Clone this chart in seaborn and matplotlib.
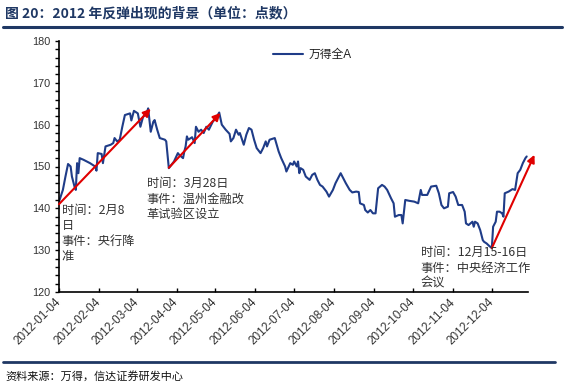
import matplotlib
matplotlib.use("Agg")
import matplotlib.pyplot as plt
import matplotlib.dates as mdates
from matplotlib.ticker import MultipleLocator
import seaborn as sns
import pandas as pd

# ---------------- data ----------------
dates = [
    "2012-01-04", "2012-01-07", "2012-01-09", "2012-01-11", "2012-01-13", "2012-01-14",
    "2012-01-16", "2012-01-17", "2012-01-18", "2012-01-19", "2012-01-20", "2012-01-23",
    "2012-01-28", "2012-02-01", "2012-02-02", "2012-02-03", "2012-02-06", "2012-02-07",
    "2012-02-09", "2012-02-13", "2012-02-15", "2012-02-16", "2012-02-18", "2012-02-20",
    "2012-02-22", "2012-02-24", "2012-02-28", "2012-02-29", "2012-03-02", "2012-03-05",
    "2012-03-07", "2012-03-09", "2012-03-12", "2012-03-13", "2012-03-14", "2012-03-15",
    "2012-03-17", "2012-03-18", "2012-03-20", "2012-03-22", "2012-03-26", "2012-03-27",
    "2012-03-29", "2012-04-02", "2012-04-05", "2012-04-06", "2012-04-09", "2012-04-10",
    "2012-04-11", "2012-04-12", "2012-04-13", "2012-04-16", "2012-04-18", "2012-04-19",
    "2012-04-21", "2012-04-23", "2012-04-25", "2012-04-27", "2012-04-29", "2012-05-02",
    "2012-05-05", "2012-05-07", "2012-05-09", "2012-05-12", "2012-05-15", "2012-05-16",
    "2012-05-18", "2012-05-20", "2012-05-22", "2012-05-23", "2012-05-26", "2012-05-28",
    "2012-05-30", "2012-06-01", "2012-06-03", "2012-06-05", "2012-06-08", "2012-06-10",
    "2012-06-12", "2012-06-13", "2012-06-15", "2012-06-19", "2012-06-22", "2012-06-24",
    "2012-06-27", "2012-06-28", "2012-07-01", "2012-07-03", "2012-07-04", "2012-07-06",
    "2012-07-07", "2012-07-08", "2012-07-09", "2012-07-11", "2012-07-13", "2012-07-16",
    "2012-07-18", "2012-07-20", "2012-07-22", "2012-07-24", "2012-07-26", "2012-07-29",
    "2012-07-31", "2012-08-03", "2012-08-05", "2012-08-09", "2012-08-11", "2012-08-13",
    "2012-08-16", "2012-08-18", "2012-08-21", "2012-08-23", "2012-08-24", "2012-08-27",
    "2012-08-28", "2012-08-30", "2012-09-01", "2012-09-03", "2012-09-05", "2012-09-07",
    "2012-09-10", "2012-09-12", "2012-09-14", "2012-09-17", "2012-09-19", "2012-09-20",
    "2012-09-23", "2012-09-25", "2012-09-26", "2012-09-28", "2012-10-01", "2012-10-05",
    "2012-10-08", "2012-10-10", "2012-10-11", "2012-10-15", "2012-10-18", "2012-10-22",
    "2012-10-24", "2012-10-26", "2012-10-28", "2012-10-31", "2012-11-01", "2012-11-04",
    "2012-11-06", "2012-11-08", "2012-11-11", "2012-11-13", "2012-11-14", "2012-11-16",
    "2012-11-19", "2012-11-20", "2012-11-21", "2012-11-23", "2012-11-25", "2012-11-27",
    "2012-11-28", "2012-11-30", "2012-12-02", "2012-12-04", "2012-12-05", "2012-12-07",
    "2012-12-08", "2012-12-10", "2012-12-12", "2012-12-13", "2012-12-14", "2012-12-17",
    "2012-12-20", "2012-12-22", "2012-12-24", "2012-12-26", "2012-12-28", "2012-12-30",
    "2012-12-31",
]
values = [
    141.6, 144.4, 147.6, 150.6, 150.0, 147.6,
    145.2, 144.4, 150.8, 148.4, 152.0, 151.6,
    150.8, 150.0, 149.0, 153.2, 153.0, 150.8,
    154.8, 155.2, 155.6, 156.8, 156.0, 156.4,
    159.5, 162.3, 162.7, 161.0, 163.3, 162.7,
    159.5, 161.8, 162.9, 163.9, 161.1, 158.3,
    160.7, 161.1, 158.8, 156.8, 156.4, 156.0,
    149.6, 151.2, 153.2, 152.8, 152.0, 153.6,
    154.8, 157.2, 156.4, 157.0, 155.6, 159.5,
    158.3, 158.8, 158.0, 159.5, 158.8, 160.7,
    161.8, 162.9, 160.0, 158.8, 157.8, 156.0,
    156.8, 158.8, 157.6, 158.0, 155.2, 157.6,
    159.2, 158.8, 156.4, 154.4, 153.2, 154.4,
    156.0, 154.8, 156.4, 156.8, 153.6, 152.0,
    150.0, 148.8, 150.8, 150.4, 151.2, 150.0,
    151.2, 148.4, 149.6, 149.2, 147.6, 146.8,
    148.0, 148.4, 146.8, 145.6, 145.2, 144.0,
    142.8, 144.4, 146.0, 148.4, 147.2, 146.0,
    144.4, 143.8, 144.0, 143.9, 141.2, 140.8,
    139.6, 139.0, 139.6, 138.8, 138.8, 144.8,
    145.6, 145.2, 144.4, 142.4, 141.2, 138.0,
    138.4, 138.4, 136.4, 142.0, 141.8, 141.6,
    141.2, 144.4, 143.2, 143.2, 145.2, 145.4,
    143.6, 140.8, 140.0, 140.4, 143.6, 143.9,
    142.8, 140.8, 140.8, 139.2, 136.4, 136.0,
    136.8, 135.6, 136.8, 136.4, 134.8, 132.4,
    132.0, 131.6, 131.0, 130.5, 135.6, 136.8,
    139.2, 139.2, 138.8, 138.0, 143.6, 144.0,
    144.6, 144.4, 148.4, 149.2, 150.8, 152.0,
    152.4,
]
series_name = "万得全A"
tick_dates = ["2012-01-04", "2012-02-04", "2012-03-04", "2012-04-04", "2012-05-04",
              "2012-06-04", "2012-07-04", "2012-08-04", "2012-09-04", "2012-10-04",
              "2012-11-04", "2012-12-04"]

# arrows: (start date, start value, end date, end value)
arrow_start_dates = ["2012-01-04", "2012-03-29", "2012-12-04"]
arrow_start_vals = [141.0, 149.7, 130.5]
arrow_end_dates = ["2012-03-15", "2012-05-08", "2013-01-06"]
arrow_end_vals = [163.8, 162.8, 152.8]

note_texts = ["时间：2月8\n日\n事件：央行降\n准",
              "时间：3月28日\n事件：温州金融改\n革试验区设立",
              "时间：12月15-16日\n事件：中央经济工作\n会议"]
note_dates = ["2012-01-06", "2012-03-12", "2012-10-10"]
note_vals = [141.0, 147.4, 130.9]

title_text = "图 20：2012 年反弹出现的背景（单位：点数）"
source_text = "资料来源：万得，信达证券研发中心"

# ---------------- style ----------------
sns.set_theme(style="white")
plt.rcParams["font.family"] = ["Liberation Sans", "Noto Sans CJK SC", "DejaVu Sans"]

navy = "#1F3C88"
rule = "#1F3864"

df = pd.DataFrame({"date": pd.to_datetime(dates), "value": values})

fig = plt.figure(figsize=(5.68, 3.91), dpi=100)
ax = fig.add_axes([59 / 568, 1 - 292 / 391, (528 - 59) / 568, (292 - 41) / 391])

sns.lineplot(data=df, x="date", y="value", ax=ax, color=navy, linewidth=1.5,
             label=series_name)

ax.set_xlim(pd.Timestamp("2012-01-04"), pd.Timestamp("2013-01-01"))
ax.set_ylim(120, 180)
ax.yaxis.set_major_locator(MultipleLocator(10))
ax.yaxis.set_minor_locator(MultipleLocator(2))
ax.set_xticks(pd.to_datetime(tick_dates))
ax.xaxis.set_major_formatter(mdates.DateFormatter("%Y-%m-%d"))
ax.set_xlabel("")
ax.set_ylabel("")

for s in ["top", "right"]:
    ax.spines[s].set_visible(False)
for s in ["left", "bottom"]:
    ax.spines[s].set_color("black")
    ax.spines[s].set_linewidth(1.2)

ax.tick_params(axis="y", which="both", direction="out", left=True, length=3,
               width=1, color="black", labelsize=7.8, pad=3, labelcolor="#333333")
ax.tick_params(axis="x", which="major", direction="in", bottom=True, length=3,
               width=1, color="black", labelsize=8.5, pad=6, labelcolor="#333333")
for lab in ax.get_xticklabels():
    lab.set_rotation(45)
    lab.set_ha("right")
    lab.set_va("center")
    lab.set_rotation_mode("anchor")

leg = ax.legend(loc="upper left", bbox_to_anchor=((268 - 59) / 469, 1 - (44 - 41) / 251),
                frameon=False, handlelength=2.6, fontsize=8.5, borderaxespad=0,
                handletextpad=0.4)
for t in leg.get_texts():
    t.set_color("#222222")

for sd, sv, ed, ev in zip(arrow_start_dates, arrow_start_vals, arrow_end_dates, arrow_end_vals):
    ax.annotate("", xy=(pd.Timestamp(ed), ev), xytext=(pd.Timestamp(sd), sv),
                arrowprops=dict(arrowstyle="-|>", color="#E00000", lw=1.5,
                                mutation_scale=11, shrinkA=0, shrinkB=0),
                annotation_clip=False)

for txt, d, v in zip(note_texts, note_dates, note_vals):
    ax.text(pd.Timestamp(d), v, txt, fontsize=8.8, va="top", ha="left",
            color="#333333", linespacing=1.22, family=["Noto Sans CJK SC", "DejaVu Sans"])

fig.text(5 / 568, 1 - 13 / 391, title_text, fontsize=10, fontweight="bold",
         color="#1F3864", va="center", ha="left",
         family=["Noto Sans CJK SC", "DejaVu Sans"])
fig.add_artist(plt.Line2D([3 / 568, 562 / 568], [1 - 27 / 391, 1 - 27 / 391],
                          color=rule, linewidth=2.2))
fig.add_artist(plt.Line2D([3 / 568, 555 / 568], [1 - 362 / 391, 1 - 362 / 391],
                          color=rule, linewidth=2.0))
fig.text(5 / 568, 1 - 376 / 391, source_text, fontsize=8, style="italic",
         color="#111111", va="center", ha="left",
         family=["Noto Sans CJK SC", "DejaVu Sans"])

fig.savefig("out.png", dpi=100)
